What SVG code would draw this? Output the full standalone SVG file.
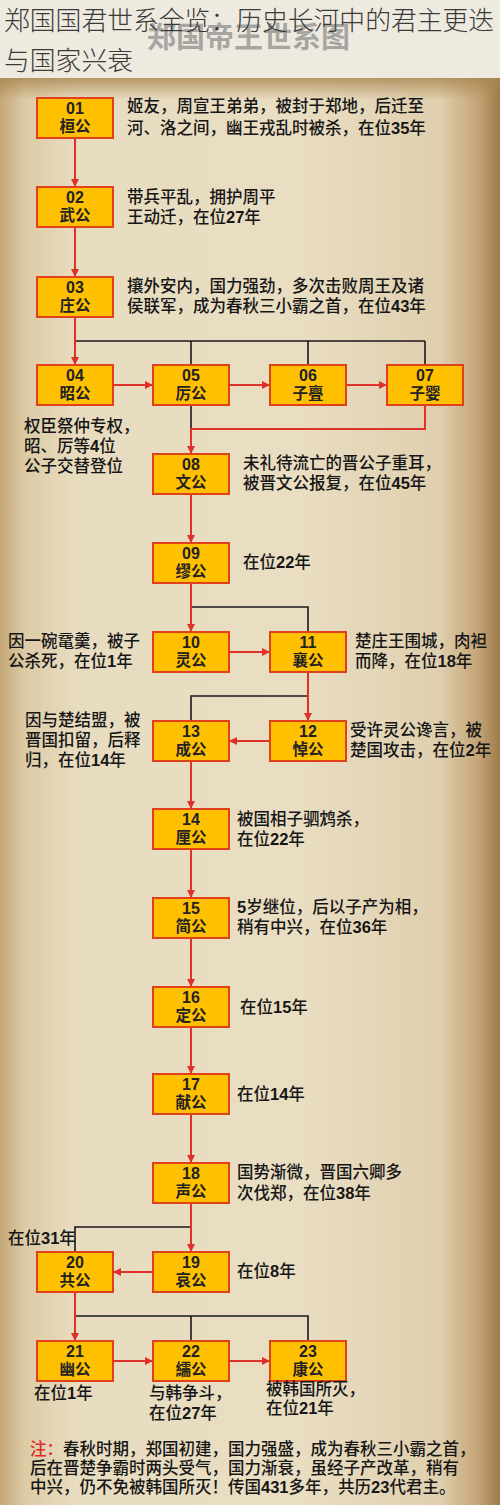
<svg xmlns="http://www.w3.org/2000/svg" width="500" height="1505" viewBox="0 0 500 1505">
<defs>
<linearGradient id="parch" x1="0" y1="0" x2="1" y2="0">
<stop offset="0" stop-color="#c4a776"/>
<stop offset="0.05" stop-color="#dccba6"/>
<stop offset="0.15" stop-color="#e8dcc0"/>
<stop offset="0.6" stop-color="#e9ddc2"/>
<stop offset="0.88" stop-color="#dfcfae"/>
<stop offset="0.96" stop-color="#c2a273"/>
<stop offset="1" stop-color="#9c7a48"/>
</linearGradient>
<linearGradient id="topedge" x1="0" y1="0" x2="0" y2="1">
<stop offset="0" stop-color="#a9864f" stop-opacity="0.8"/>
<stop offset="1" stop-color="#a9864f" stop-opacity="0"/>
</linearGradient>
<marker id="ah" markerUnits="userSpaceOnUse" markerWidth="9" markerHeight="9" refX="8" refY="4" orient="auto">
<path d="M0,0 L8,4 L0,8 z" fill="#e0302a"/>
</marker>
<style>
.box{fill:#ffc000;stroke:#e0401a;stroke-width:2}
.nt{font-family:"Liberation Sans","Noto Sans CJK SC",sans-serif;font-weight:bold;font-size:15.5px;fill:#222;text-anchor:middle}
.nn{font-size:16px}
.d{font-family:"Liberation Serif","Noto Sans CJK SC",serif;font-size:16.5px;font-weight:500;fill:#161616}
.b{font-family:"Liberation Sans",sans-serif;font-weight:bold}
.red{fill:none;stroke:#e0302a;stroke-width:2;marker-end:url(#ah)}
.blk{fill:none;stroke:#1a1a1a;stroke-width:1.6}
</style>
</defs>
<rect x="0" y="0" width="500" height="78" fill="#efeadf"/>
<rect x="0" y="78" width="500" height="1427" fill="url(#parch)"/>
<rect x="0" y="78" width="500" height="22" fill="url(#topedge)"/>
<text x="147" y="48" font-family="Liberation Sans,'Noto Sans CJK SC',sans-serif" font-weight="bold" font-size="29" fill="#8e8e8e" fill-opacity="0.75">郑国帝王世系图</text>
<g font-family="'Noto Sans CJK SC',sans-serif" font-weight="300" font-size="25.8" fill="#3a3a3a">
<text x="4" y="30">郑国国君世系全览：历史长河中的君主更迭</text>
<text x="4" y="70">与国家兴衰</text>
</g>
<g id="connectors">
<path class="blk" d="M75,341 H425 M191,341 V365 M308,341 V365 M425,341 V365"/>
<path class="blk" d="M191,405 V429"/>
<path class="blk" d="M191,607 H308 V632"/>
<path class="blk" d="M308,696 H191 V721"/>
<path class="blk" d="M191,1227 H75 V1252"/>
<path class="blk" d="M75,1316 H308 V1341 M191,1316 V1341"/>
<path class="red" d="M75,138 V187"/>
<path class="red" d="M75,227 V277"/>
<path class="red" d="M75,317 V365"/>
<path class="red" d="M113,385 H153"/>
<path class="red" d="M229,385 H270"/>
<path class="red" d="M346,385 H387"/>
<path class="red" d="M425,405 V429 H191 V454"/>
<path class="red" d="M191,494 V543"/>
<path class="red" d="M191,583 V632"/>
<path class="red" d="M229,652 H270"/>
<path class="red" d="M308,672 V721"/>
<path class="red" d="M270,741 H229"/>
<path class="red" d="M191,761 V809"/>
<path class="red" d="M191,849 V898"/>
<path class="red" d="M191,938 V987"/>
<path class="red" d="M191,1027 V1074"/>
<path class="red" d="M191,1114 V1163"/>
<path class="red" d="M191,1203 V1252"/>
<path class="red" d="M153,1272 H113"/>
<path class="red" d="M75,1292 V1341"/>
<path class="red" d="M113,1361 H153"/>
<path class="red" d="M229,1361 H270"/>
</g>
<g id="n01"><rect class="box" x="37" y="98" width="76" height="40"/><text class="nt"><tspan class="nn" x="75" y="114">01</tspan><tspan x="75" y="132">桓公</tspan></text></g>
<g id="n02"><rect class="box" x="37" y="187" width="76" height="40"/><text class="nt"><tspan class="nn" x="75" y="203">02</tspan><tspan x="75" y="221">武公</tspan></text></g>
<g id="n03"><rect class="box" x="37" y="277" width="76" height="40"/><text class="nt"><tspan class="nn" x="75" y="293">03</tspan><tspan x="75" y="311">庄公</tspan></text></g>
<g id="n04"><rect class="box" x="37" y="365" width="76" height="40"/><text class="nt"><tspan class="nn" x="75" y="381">04</tspan><tspan x="75" y="399">昭公</tspan></text></g>
<g id="n05"><rect class="box" x="153" y="365" width="76" height="40"/><text class="nt"><tspan class="nn" x="191" y="381">05</tspan><tspan x="191" y="399">厉公</tspan></text></g>
<g id="n06"><rect class="box" x="270" y="365" width="76" height="40"/><text class="nt"><tspan class="nn" x="308" y="381">06</tspan><tspan x="308" y="399">子亹</tspan></text></g>
<g id="n07"><rect class="box" x="387" y="365" width="76" height="40"/><text class="nt"><tspan class="nn" x="425" y="381">07</tspan><tspan x="425" y="399">子婴</tspan></text></g>
<g id="n08"><rect class="box" x="153" y="454" width="76" height="40"/><text class="nt"><tspan class="nn" x="191" y="470">08</tspan><tspan x="191" y="488">文公</tspan></text></g>
<g id="n09"><rect class="box" x="153" y="543" width="76" height="40"/><text class="nt"><tspan class="nn" x="191" y="559">09</tspan><tspan x="191" y="577">缪公</tspan></text></g>
<g id="n10"><rect class="box" x="153" y="632" width="76" height="40"/><text class="nt"><tspan class="nn" x="191" y="648">10</tspan><tspan x="191" y="666">灵公</tspan></text></g>
<g id="n11"><rect class="box" x="270" y="632" width="76" height="40"/><text class="nt"><tspan class="nn" x="308" y="648">11</tspan><tspan x="308" y="666">襄公</tspan></text></g>
<g id="n13"><rect class="box" x="153" y="721" width="76" height="40"/><text class="nt"><tspan class="nn" x="191" y="737">13</tspan><tspan x="191" y="755">成公</tspan></text></g>
<g id="n12"><rect class="box" x="270" y="721" width="76" height="40"/><text class="nt"><tspan class="nn" x="308" y="737">12</tspan><tspan x="308" y="755">悼公</tspan></text></g>
<g id="n14"><rect class="box" x="153" y="809" width="76" height="40"/><text class="nt"><tspan class="nn" x="191" y="825">14</tspan><tspan x="191" y="843">厘公</tspan></text></g>
<g id="n15"><rect class="box" x="153" y="898" width="76" height="40"/><text class="nt"><tspan class="nn" x="191" y="914">15</tspan><tspan x="191" y="932">简公</tspan></text></g>
<g id="n16"><rect class="box" x="153" y="987" width="76" height="40"/><text class="nt"><tspan class="nn" x="191" y="1003">16</tspan><tspan x="191" y="1021">定公</tspan></text></g>
<g id="n17"><rect class="box" x="153" y="1074" width="76" height="40"/><text class="nt"><tspan class="nn" x="191" y="1090">17</tspan><tspan x="191" y="1108">献公</tspan></text></g>
<g id="n18"><rect class="box" x="153" y="1163" width="76" height="40"/><text class="nt"><tspan class="nn" x="191" y="1179">18</tspan><tspan x="191" y="1197">声公</tspan></text></g>
<g id="n20"><rect class="box" x="37" y="1252" width="76" height="40"/><text class="nt"><tspan class="nn" x="75" y="1268">20</tspan><tspan x="75" y="1286">共公</tspan></text></g>
<g id="n19"><rect class="box" x="153" y="1252" width="76" height="40"/><text class="nt"><tspan class="nn" x="191" y="1268">19</tspan><tspan x="191" y="1286">哀公</tspan></text></g>
<g id="n21"><rect class="box" x="37" y="1341" width="76" height="40"/><text class="nt"><tspan class="nn" x="75" y="1357">21</tspan><tspan x="75" y="1375">幽公</tspan></text></g>
<g id="n22"><rect class="box" x="153" y="1341" width="76" height="40"/><text class="nt"><tspan class="nn" x="191" y="1357">22</tspan><tspan x="191" y="1375">繻公</tspan></text></g>
<g id="n23"><rect class="box" x="270" y="1341" width="76" height="40"/><text class="nt"><tspan class="nn" x="308" y="1357">23</tspan><tspan x="308" y="1375">康公</tspan></text></g>
<g id="notes" class="d">
<text x="127" y="112">姬友，周宣王弟弟，被封于郑地，后迁至</text>
<text x="127" y="134">河、洛之间，幽王戎乱时被杀，在位<tspan class="b">35</tspan>年</text>
<text x="127" y="203">带兵平乱，拥护周平</text>
<text x="127" y="223">王动迁，在位<tspan class="b">27</tspan>年</text>
<text x="127" y="292">攘外安内，国力强劲，多次击败周王及诸</text>
<text x="127" y="312">侯联军，成为春秋三小霸之首，在位<tspan class="b">43</tspan>年</text>
<text x="24" y="432">权臣祭仲专权，</text>
<text x="24" y="452">昭、厉等<tspan class="b">4</tspan>位</text>
<text x="24" y="472">公子交替登位</text>
<text x="243" y="469">未礼待流亡的晋公子重耳，</text>
<text x="243" y="489">被晋文公报复，在位<tspan class="b">45</tspan>年</text>
<text x="243" y="568">在位<tspan class="b">22</tspan>年</text>
<text x="8" y="647">因一碗鼋羹，被子</text>
<text x="8" y="667">公杀死，在位<tspan class="b">1</tspan>年</text>
<text x="355" y="647">楚庄王围城，肉袒</text>
<text x="355" y="667">而降，在位<tspan class="b">18</tspan>年</text>
<text x="25" y="726">因与楚结盟，被</text>
<text x="25" y="746">晋国扣留，后释</text>
<text x="25" y="766">归，在位<tspan class="b">14</tspan>年</text>
<text x="350" y="736">受许灵公谗言，被</text>
<text x="350" y="756">楚国攻击，在位<tspan class="b">2</tspan>年</text>
<text x="237" y="825">被国相子驷鸩杀，</text>
<text x="237" y="845">在位<tspan class="b">22</tspan>年</text>
<text x="237" y="913"><tspan class="b">5</tspan>岁继位，后以子产为相，</text>
<text x="237" y="933">稍有中兴，在位<tspan class="b">36</tspan>年</text>
<text x="240" y="1013">在位<tspan class="b">15</tspan>年</text>
<text x="237" y="1100">在位<tspan class="b">14</tspan>年</text>
<text x="237" y="1178">国势渐微，晋国六卿多</text>
<text x="237" y="1199">次伐郑，在位<tspan class="b">38</tspan>年</text>
<text x="8" y="1244">在位<tspan class="b">31</tspan>年</text>
<text x="237" y="1277">在位<tspan class="b">8</tspan>年</text>
<text x="34" y="1399">在位<tspan class="b">1</tspan>年</text>
<text x="149" y="1399">与韩争斗，</text>
<text x="149" y="1419">在位<tspan class="b">27</tspan>年</text>
<text x="266" y="1395">被韩国所灭，</text>
<text x="266" y="1414">在位<tspan class="b">21</tspan>年</text>
</g>
<g id="footnote" class="d">
<text x="30" y="1455"><tspan fill="#e02828">注：</tspan>春秋时期，郑国初建，国力强盛，成为春秋三小霸之首，</text>
<text x="30" y="1474">后在晋楚争霸时两头受气，国力渐衰，虽经子产改革，稍有</text>
<text x="30" y="1493">中兴，仍不免被韩国所灭！传国<tspan class="b">431</tspan>多年，共历<tspan class="b">23</tspan>代君主。</text>
</g>
</svg>
